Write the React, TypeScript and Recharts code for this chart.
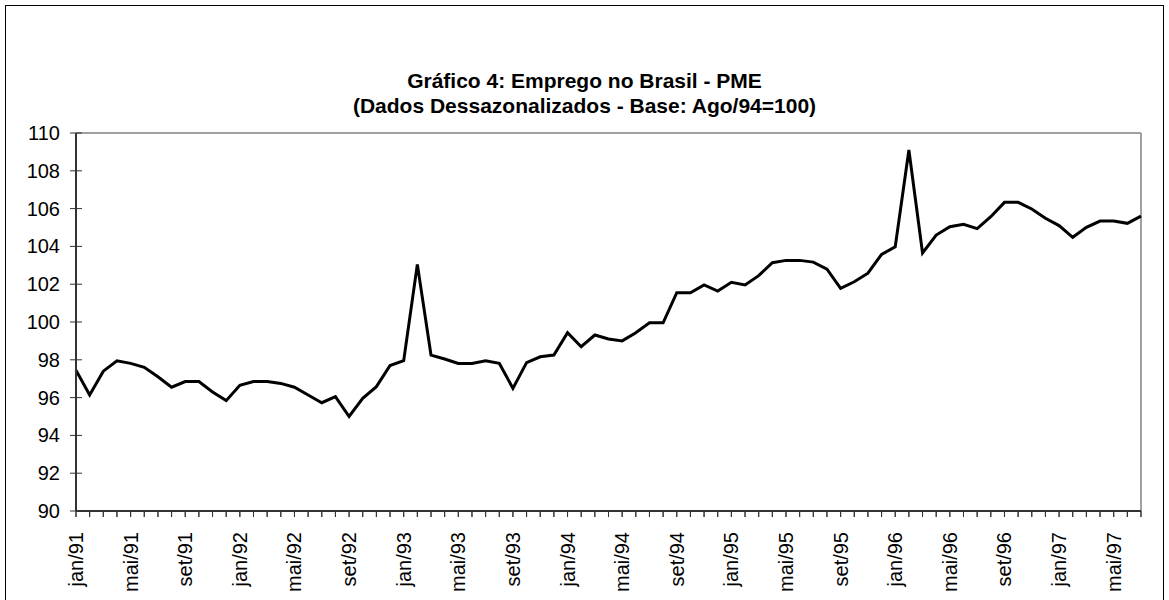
import React from "react";
import {
  LineChart,
  Line,
  XAxis,
  YAxis,
  ReferenceLine,
} from "recharts";

// month names and years for the category labels
const MONTHS = ["jan", "fev", "mar", "abr", "mai", "jun", "jul", "ago", "set", "out", "nov", "dez"];
const YEARS = ["91", "92", "93", "94", "95", "96", "97"];

// employment index, jan/91 .. jul/97 (seasonally adjusted, ago/94 = 100)
const EMPREGO = [
  97.45, 96.14, 97.4, 97.95, 97.81, 97.6, 97.1, 96.55, 96.85, 96.85, 96.3, 95.84,
  96.65, 96.85, 96.85, 96.75, 96.55, 96.14, 95.73, 96.05, 95.0, 95.96, 96.58, 97.7,
  97.95, 103.05, 98.25, 98.04, 97.81, 97.81, 97.95, 97.81, 96.49, 97.85, 98.16, 98.25,
  99.43, 98.69, 99.31, 99.1, 99.0, 99.43, 99.96, 99.96, 101.55, 101.55, 101.96, 101.64,
  102.1, 101.96, 102.45, 103.14, 103.26, 103.26, 103.17, 102.8, 101.78, 102.13, 102.58, 103.58,
  103.98, 109.1, 103.65, 104.6, 105.04, 105.17, 104.94, 105.57, 106.33, 106.33, 105.98, 105.49,
  105.1, 104.48, 105.01, 105.34, 105.34, 105.22, 105.6,
];

const Y_TICKS = [90, 92, 94, 96, 98, 100, 102, 104, 106, 108, 110];

const CATEGORIES = YEARS.flatMap((y) => MONTHS.map((m) => `${m}/${y}`)).slice(0, EMPREGO.length);

const data = CATEGORIES.map((mes, i) => ({ mes, valor: EMPREGO[i] }));

const FONT = "Arial, 'Liberation Sans', sans-serif";
const AXIS = "#333";

function XTick(props: any) {
  const { x, y, payload, index } = props;
  return (
    <g>
      <line x1={x} x2={x} y1={y - 15} y2={y - 9} stroke={AXIS} />
      {index % 4 === 0 && (
        <text
          transform={`translate(${x},${y + 6}) rotate(-90)`}
          textAnchor="end"
          dy="0.35em"
          fontSize={20}
          fontFamily={FONT}
          fill="#000"
        >
          {payload.value}
        </text>
      )}
    </g>
  );
}

function YTick(props: any) {
  const { x, y, payload } = props;
  return (
    <g>
      <line x1={x + 15} x2={x + 21} y1={y} y2={y} stroke={AXIS} />
      <text x={x - 1} y={y} dy="0.35em" textAnchor="end" fontSize={20} fontFamily={FONT} fill="#000">
        {payload.value}
      </text>
    </g>
  );
}

export default function App() {
  return (
    <div style={{ position: "absolute", left: 0, top: 0, width: 1169, height: 600, background: "#fff" }}>
      <div
        style={{
          position: "absolute",
          left: 5,
          top: 5,
          width: 1159,
          height: 600,
          border: "1px solid #000",
          boxSizing: "border-box",
        }}
      />
      <div
        style={{
          position: "absolute",
          left: 0,
          top: 68,
          width: 1169,
          textAlign: "center",
          fontFamily: FONT,
          fontWeight: "bold",
          fontSize: 21,
          lineHeight: "25px",
        }}
      >
        Gráfico 4: Emprego no Brasil - PME
        <br />
        (Dados Dessazonalizados - Base: Ago/94=100)
      </div>
      <div style={{ position: "absolute", left: 0, top: 0 }}>
        <LineChart width={1169} height={600} data={data} margin={{ top: 133, right: 28, bottom: 0, left: 6 }}>
          <ReferenceLine y={110} stroke="#808080" strokeWidth={1.5} />
          <ReferenceLine x={CATEGORIES[CATEGORIES.length - 1]} stroke="#808080" strokeWidth={1.5} />
          <XAxis
            dataKey="mes"
            interval={0}
            height={89}
            tickSize={6}
            tickMargin={9}
            tickLine={{ stroke: AXIS }}
            axisLine={{ stroke: AXIS, strokeWidth: 2 }}
            tick={<XTick />}
          />
          <YAxis
            domain={[90, 110]}
            ticks={Y_TICKS}
            width={70}
            tickSize={6}
            tickMargin={9}
            tickLine={{ stroke: AXIS }}
            axisLine={{ stroke: AXIS, strokeWidth: 2 }}
            tick={<YTick />}
            allowDataOverflow
          />
          <Line
            type="linear"
            dataKey="valor"
            stroke="#000"
            strokeWidth={3}
            dot={false}
            isAnimationActive={false}
          />
        </LineChart>
      </div>
    </div>
  );
}
